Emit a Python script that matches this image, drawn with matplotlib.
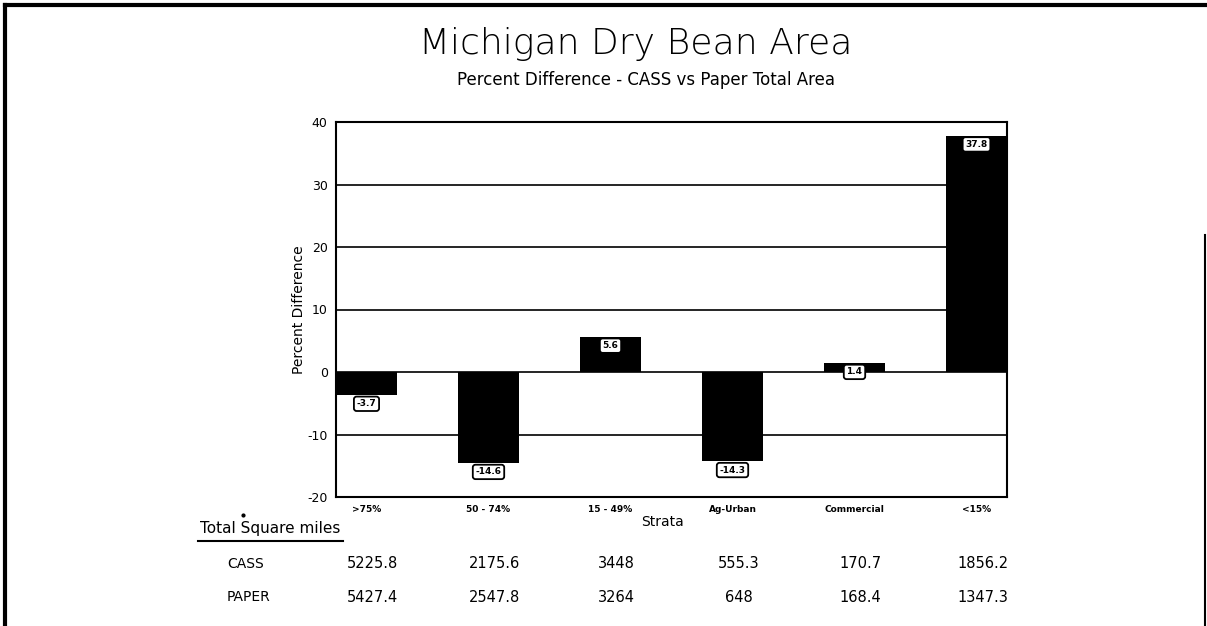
import matplotlib
matplotlib.use("Agg")
import matplotlib.pyplot as plt
import numpy as np
from matplotlib.lines import Line2D
import matplotlib.transforms as mtransforms

plt.rcParams["axes.unicode_minus"] = False

strata = [">75%", "50 - 74%", "15 - 49%", "Ag-Urban", "Commercial", "<15%"]
pct_diff = [-3.7, -14.6, 5.6, -14.3, 1.4, 37.8]
cass = ["5225.8", "2175.6", "3448", "555.3", "170.7", "1856.2"]
paper = ["5427.4", "2547.8", "3264", "648", "168.4", "1347.3"]
yticks = [-20, -10, 0, 10, 20, 30, 40]

fig = plt.figure(figsize=(12.07, 6.26), dpi=100)
ax = fig.add_axes([336 / 1207, 1 - 497 / 626, 671 / 1207, 375 / 626])

x = np.arange(len(strata))
for y in [-10, 0, 10, 20, 30]:
    ax.axhline(y, color="black", lw=1.2, zorder=1)
ax.bar(x, pct_diff, width=0.5, color="black", zorder=2)

# value boxes hang just under the bar end
for xi, v in zip(x, pct_diff):
    ax.annotate(f"{v:.1f}", (xi, v), xytext=(0, -3), textcoords="offset points",
                ha="center", va="top", fontsize=6.5, fontweight="bold", zorder=4,
                bbox=dict(boxstyle="round,pad=0.3", fc="white", ec="black", lw=1.3))

ax.set_xlim(-0.25, 5.25)
ax.set_ylim(-20, 40)
ax.set_yticks(yticks)
ax.set_xticks(x)
ax.set_xticklabels(strata, fontsize=6.5, fontweight="bold")
ax.tick_params(axis="both", length=0, pad=6)
ax.tick_params(axis="y", labelsize=9)
for s in ax.spines.values():
    s.set_linewidth(1.5)
ax.set_ylabel("Percent Difference", fontsize=10, labelpad=1)

fig.text(636 / 1207, 1 - 44 / 626, "Michigan Dry Bean Area", fontsize=26,
         ha="center", va="center", fontweight="light")
fig.text(646 / 1207, 1 - 80 / 626, "Percent Difference - CASS vs Paper Total Area",
         fontsize=12, ha="center", va="center")
fig.text(662 / 1207, 1 - 522 / 626, "Strata", fontsize=10, ha="center", va="center")

# table of total square miles under the chart
fig.text(200 / 1207, 1 - 529 / 626, "Total Square miles", fontsize=11,
         ha="left", va="center")
fig.add_artist(Line2D([198 / 1207, 343 / 1207], [1 - 541 / 626, 1 - 541 / 626],
                      color="black", lw=1.5))
fig.add_artist(Line2D([243 / 1207], [1 - 515 / 626], marker="o", ms=2, color="black"))
fig.text(246 / 1207, 1 - 564 / 626, "CASS", fontsize=10, ha="center", va="center")
fig.text(248 / 1207, 1 - 597 / 626, "PAPER", fontsize=10, ha="center", va="center")
trans = mtransforms.blended_transform_factory(ax.transData, fig.transFigure)
for xi, c, p in zip(x, cass, paper):
    ax.text(xi + 0.05, 1 - 564 / 626, c, transform=trans, fontsize=10.5,
            ha="center", va="center", clip_on=False)
    ax.text(xi + 0.05, 1 - 597 / 626, p, transform=trans, fontsize=10.5,
            ha="center", va="center", clip_on=False)

# page border
fig.add_artist(Line2D([5 / 1207, 1], [1 - 5 / 626, 1 - 5 / 626], color="black", lw=3))
fig.add_artist(Line2D([5 / 1207, 5 / 1207], [0, 1 - 5 / 626], color="black", lw=3))
fig.add_artist(Line2D([1205 / 1207, 1205 / 1207], [0, 1 - 235 / 626], color="black", lw=1.5))

fig.savefig("out.png", dpi=100)
